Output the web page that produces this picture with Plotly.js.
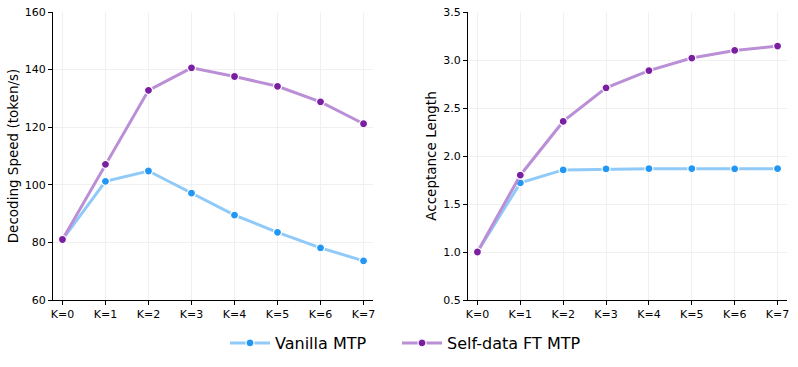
<!DOCTYPE html>
<html>
<head>
<meta charset="utf-8">
<script src="https://cdn.plot.ly/plotly-3.0.1.min.js"></script>
<style>
  html, body { margin: 0; padding: 0; background: #fff; }
  #chart { width: 798px; height: 367px; }
</style>
</head>
<body>
<div id="chart"></div>
<script>
const categories = ["K=0", "K=1", "K=2", "K=3", "K=4", "K=5", "K=6", "K=7"];

// decoding speed (token/s)
const speedVanilla = [81, 101.2, 104.8, 97.1, 89.5, 83.5, 78.1, 73.6];
const speedSelfFT  = [81, 107.1, 132.8, 140.6, 137.6, 134.2, 128.8, 121.2];

// acceptance length
const accVanilla = [1.0, 1.72, 1.855, 1.865, 1.868, 1.868, 1.866, 1.868];
const accSelfFT  = [1.0, 1.80, 2.36, 2.71, 2.89, 3.02, 3.10, 3.145];

const xs = categories.map((_, i) => i);

const blueLine = "#90CAF9", blueDot = "#2196F3";
const purpLine = "#BA8FD6", purpDot = "#7B1FA2";

function series(y, name, lc, mc, xa, ya, show, leg) {
  return {
    x: xs, y: y, name: name, type: "scatter", mode: "lines+markers",
    xaxis: xa, yaxis: ya, showlegend: show, legend: leg,
    line: { color: lc, width: 3 },
    marker: { color: mc, size: 8, line: { color: "#fff", width: 1.2 } }
  };
}

const data = [
  series(speedVanilla, "Vanilla MTP", blueLine, blueDot, "x", "y", true, "legend"),
  series(speedSelfFT, "Self-data FT MTP", purpLine, purpDot, "x", "y", true, "legend2"),
  series(accVanilla, "Vanilla MTP", blueLine, blueDot, "x2", "y2", false, "legend"),
  series(accSelfFT, "Self-data FT MTP", purpLine, purpDot, "x2", "y2", false, "legend2")
];

const W = 798, H = 367;
const yDom = [1 - 300 / H, 1 - 12 / H];

const xBase = {
  tickvals: xs, ticktext: categories, range: [-0.22, 7.22],
  showline: true, linecolor: "#000", linewidth: 1,
  ticks: "outside", ticklen: 4, tickcolor: "#000",
  showgrid: true, gridcolor: "#f0f0f0", gridwidth: 1, zeroline: false,
  tickfont: { size: 11, color: "#000" }
};
const yBase = {
  showline: true, linecolor: "#000", linewidth: 1,
  ticks: "outside", ticklen: 4, tickcolor: "#000",
  showgrid: true, gridcolor: "#f0f0f0", gridwidth: 1, zeroline: false,
  tickfont: { size: 11, color: "#000" }, domain: yDom
};

const legBase = {
  orientation: "h", xanchor: "left", y: 1 - 343 / H, yanchor: "middle",
  font: { size: 16 }, itemwidth: 40
};

const layout = {
  width: W, height: H,
  margin: { l: 0, r: 0, t: 0, b: 0 },
  paper_bgcolor: "#fff", plot_bgcolor: "#fff",
  font: { family: "DejaVu Sans", color: "#000" },
  xaxis: Object.assign({}, xBase, { domain: [53 / W, 373 / W], anchor: "y" }),
  yaxis: Object.assign({}, yBase, {
    range: [60, 160], dtick: 20, anchor: "x",
    title: { text: "Decoding Speed (token/s)", font: { size: 13.5 }, standoff: 3 }
  }),
  xaxis2: Object.assign({}, xBase, { domain: [468 / W, 787 / W], anchor: "y2" }),
  yaxis2: Object.assign({}, yBase, {
    range: [0.5, 3.5], dtick: 0.5, tickformat: ".1f", anchor: "x2",
    title: { text: "Acceptance Length", font: { size: 13.5 }, standoff: 3 }
  }),
  legend: Object.assign({}, legBase, { x: 225 / W }),
  legend2: Object.assign({}, legBase, { x: 397 / W })
};

Plotly.newPlot("chart", data, layout, { displayModeBar: false, staticPlot: true });
</script>
</body>
</html>
